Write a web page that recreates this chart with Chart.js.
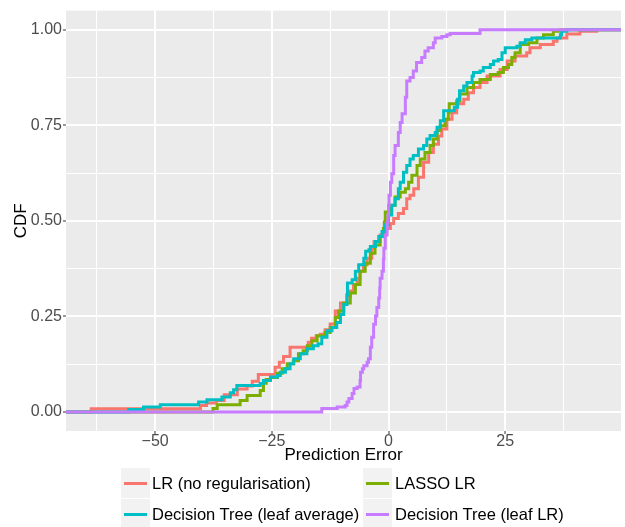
<!DOCTYPE html>
<html><head><meta charset="utf-8">
<script src="https://cdn.jsdelivr.net/npm/chart.js@4"></script>
<style>
html,body{margin:0;padding:0;background:#fff;}
#wrap{position:relative;width:625px;height:527px;overflow:hidden;}
#c{position:absolute;left:0;top:0;}
.key{position:absolute;width:29px;height:30px;background:#F2F2F2;}
.key span{position:absolute;left:3px;right:3px;top:13.5px;height:3px;}
.lab{position:absolute;font-family:"Liberation Sans",Arial,sans-serif;font-size:16.5px;color:#000;white-space:nowrap;line-height:30px;height:30px;}
</style></head>
<body>
<div id="wrap"><canvas id="c" width="625" height="527"></canvas></div>
<script>
// ---- data (ECDF step corners) ----
const seriesNames = ['LR (no regularisation)', 'LASSO LR', 'Decision Tree (leaf average)', 'Decision Tree (leaf LR)'];

const lrX = [-63.7,-40.3,-39.0,-36.9,-35.2,-32.4,-30.3,-29.2,-27.9,-24.3,-23.4,-22.5,-21.1,-17.2,-16.5,-15.5,-14.6,-13.6,-12.5,-11.4,-10.3,-8.9,-8.2,-7.5,-6.7,-6.1,-5.4,-4.6,-3.6,-3.1,-1.8,-0.7,0.4,1.1,2.1,3.2,3.9,4.6,5.4,6.4,7.5,8.6,9.6,10.7,11.4,12.5,13.6,14.6,16.1,17.1,18.2,19.6,21.1,23.9,25.4,27.1,29.6,30.3,32.5,35.3,36.1,38.2,41.0,44.6];
const lrY = [0.008,0.017,0.023,0.030,0.045,0.060,0.068,0.080,0.098,0.117,0.130,0.145,0.169,0.182,0.193,0.199,0.203,0.215,0.230,0.264,0.285,0.303,0.316,0.333,0.350,0.368,0.385,0.402,0.428,0.446,0.463,0.480,0.493,0.506,0.519,0.532,0.558,0.567,0.584,0.614,0.653,0.679,0.700,0.722,0.740,0.766,0.783,0.806,0.818,0.835,0.849,0.862,0.879,0.896,0.918,0.931,0.940,0.953,0.961,0.970,0.978,0.989,0.996,1.000];

const lassoX = [-37.6,-36.7,-31.8,-30.3,-27.5,-26.8,-26.2,-25.3,-23.8,-22.8,-21.7,-20.4,-19.3,-18.3,-17.4,-16.4,-15.3,-13.6,-12.5,-11.4,-10.7,-9.6,-8.2,-7.1,-6.1,-5.0,-3.9,-2.9,-1.8,-1.1,-0.9,-0.7,0.4,1.4,2.5,3.6,4.3,5.0,6.1,6.8,7.8,8.9,9.6,10.4,11.1,12.1,12.8,13.0,14.6,15.3,16.8,18.2,19.6,21.8,23.5,24.6,25.7,26.4,27.1,28.2,30.0,31.8,33.2,35.3,36.8];
const lassoY = [0.009,0.019,0.030,0.043,0.056,0.075,0.085,0.090,0.101,0.113,0.126,0.134,0.152,0.160,0.173,0.186,0.199,0.208,0.221,0.247,0.264,0.285,0.311,0.333,0.368,0.389,0.415,0.437,0.459,0.480,0.497,0.523,0.541,0.562,0.575,0.584,0.601,0.619,0.645,0.662,0.679,0.697,0.714,0.736,0.749,0.766,0.783,0.806,0.814,0.832,0.849,0.862,0.870,0.883,0.888,0.901,0.909,0.927,0.940,0.961,0.966,0.978,0.987,0.996,1.000];

const dtAvgX = [-55.7,-52.5,-48.9,-40.7,-38.9,-35.7,-33.9,-33.2,-32.5,-27.5,-26.8,-25.3,-23.8,-23.2,-22.1,-21.1,-20.3,-18.9,-17.5,-16.1,-15.1,-14.3,-13.2,-12.1,-11.1,-10.3,-9.6,-8.9,-8.8,-7.8,-7.1,-6.4,-5.3,-4.9,-4.2,-3.9,-2.8,-2.1,-1.4,-0.7,0.0,0.7,1.4,2.1,2.5,3.2,3.9,4.6,5.3,6.4,7.5,8.2,8.9,10.0,10.4,11.1,11.8,14.1,14.8,15.2,16.1,16.8,17.9,18.2,19.6,20.3,21.8,22.5,23.5,24.3,25.0,27.5,28.2,29.3,30.7,36.8,37.1,38.2];
const dtAvgY = [0.006,0.013,0.019,0.026,0.032,0.039,0.050,0.058,0.069,0.074,0.082,0.091,0.095,0.104,0.113,0.126,0.139,0.152,0.165,0.173,0.178,0.195,0.212,0.221,0.234,0.255,0.281,0.307,0.337,0.346,0.368,0.385,0.402,0.420,0.424,0.433,0.446,0.459,0.472,0.489,0.515,0.541,0.558,0.584,0.601,0.627,0.645,0.662,0.671,0.688,0.697,0.714,0.723,0.731,0.745,0.762,0.788,0.797,0.818,0.840,0.853,0.862,0.879,0.888,0.892,0.901,0.909,0.918,0.922,0.940,0.953,0.957,0.966,0.974,0.978,0.987,0.996,1.000];

const dtLrX = [-14.3,-11.0,-9.3,-8.9,-8.5,-7.8,-7.4,-6.7,-6.1,-6.0,-5.6,-5.3,-4.6,-4.3,-3.9,-3.6,-3.2,-2.8,-2.5,-2.1,-1.9,-1.8,-1.4,-1.1,-1.0,-0.7,-0.3,-0.1,0.0,0.1,0.4,0.7,1.1,1.4,2.1,2.5,2.9,3.6,3.9,4.6,5.3,6.0,7.1,7.8,8.5,9.6,10.0,11.4,12.5,13.2,19.6];
const dtLrY = [0.009,0.013,0.017,0.026,0.035,0.048,0.061,0.065,0.082,0.104,0.113,0.121,0.130,0.139,0.169,0.195,0.229,0.251,0.273,0.298,0.324,0.350,0.368,0.400,0.428,0.463,0.497,0.515,0.541,0.567,0.601,0.623,0.671,0.697,0.731,0.757,0.780,0.823,0.866,0.875,0.892,0.914,0.927,0.944,0.953,0.966,0.978,0.982,0.987,0.990,1.000];

const xMajor = [-50, -25, 0, 25];
const xMinor = [-62.5, -37.5, -12.5, 12.5, 37.5];
const yMajor = [0, 0.25, 0.5, 0.75, 1];
const yMinor = [0.125, 0.375, 0.625, 0.875];
const xMin = -69.1, xMax = 49.8, yMin = -0.05, yMax = 1.05;

// ---- styles ----
const colors = ['#F8766D', '#7CAE00', '#00BFC4', '#C77CFF'];
const FONT = '"Liberation Sans", Arial, sans-serif';
Chart.defaults.font.family = FONT;

const seriesX = [lrX, lassoX, dtAvgX, dtLrX];
const seriesY = [lrY, lassoY, dtAvgY, dtLrY];

function ecdfPoints(xs, ys) {
  const pts = [{x: xMin, y: 0}];
  xs.forEach((x, i) => pts.push({x: x, y: ys[i]}));
  pts.push({x: xMax, y: 1});
  return pts;
}

const datasets = seriesNames.map((name, i) => ({
  label: name,
  data: ecdfPoints(seriesX[i], seriesY[i]),
  borderColor: colors[i],
  backgroundColor: colors[i],
  borderWidth: 3,
  pointRadius: 0,
  stepped: 'before',
  fill: false,
  tension: 0,
  order: seriesNames.length - 1 - i
}));

const panelBg = {
  id: 'panelBg',
  beforeDraw(chart) {
    const {ctx, chartArea: a} = chart;
    ctx.save();
    ctx.fillStyle = '#EBEBEB';
    ctx.fillRect(a.left, a.top, a.right - a.left, a.bottom - a.top);
    ctx.restore();
  }
};

const fmtX = v => v < 0 ? '\u2212' + Math.abs(v) : String(v);

new Chart(document.getElementById('c'), {
  type: 'line',
  data: {datasets},
  plugins: [panelBg],
  options: {
    responsive: false,
    animation: false,
    devicePixelRatio: 1,
    layout: {padding: {top: 7, right: 4, left: 0, bottom: 60}},
    plugins: {legend: {display: false}, tooltip: {enabled: false}},
    scales: {
      x: {
        type: 'linear', min: xMin, max: xMax,
        afterBuildTicks: s => { s.ticks = [...xMajor, ...xMinor].sort((a, b) => a - b).map(v => ({value: v})); },
        afterFit: s => { s.height = 36; },
        ticks: {
          callback: v => xMajor.includes(v) ? fmtX(v) : '',
          color: '#4D4D4D', font: {size: 16, lineHeight: 1}, padding: 0,
          maxRotation: 0, autoSkip: false
        },
        grid: {
          color: '#FFFFFF',
          lineWidth: c => xMajor.includes(c.tick.value) ? 2 : 1,
          tickLength: 3,
          tickWidth: 1,
          tickColor: c => xMajor.includes(c.tick.value) ? '#333333' : 'rgba(0,0,0,0)'
        },
        border: {display: false},
        title: {display: true, text: 'Prediction Error', color: '#000', font: {size: 17}, padding: {top: 0, bottom: 1.8}}
      },
      y: {
        type: 'linear', min: yMin, max: yMax,
        afterBuildTicks: s => { s.ticks = [...yMajor, ...yMinor].sort((a, b) => a - b).map(v => ({value: v})); },
        afterFit: s => { s.width = 66; },
        ticks: {
          callback: v => yMajor.includes(v) ? v.toFixed(2) : '',
          color: '#4D4D4D', font: {size: 16}, padding: 1, autoSkip: false
        },
        grid: {
          color: '#FFFFFF',
          lineWidth: c => yMajor.includes(c.tick.value) ? 2 : 1,
          tickLength: 3,
          tickWidth: 1,
          tickColor: c => yMajor.includes(c.tick.value) ? '#333333' : 'rgba(0,0,0,0)'
        },
        border: {display: false},
        title: {display: true, text: 'CDF', color: '#000', font: {size: 17}, padding: {top: 10.8, bottom: 0}}
      }
    }
  }
});

// ---- legend (2 x 2 grid, ggplot style) ----
const wrap = document.getElementById('wrap');
const keyLeft = [121, 363], labLeft = [152, 395], rowTop = [468, 499];
seriesNames.forEach((name, i) => {
  const col = i % 2, row = Math.floor(i / 2);
  const lab = document.createElement('div');
  lab.className = 'lab';
  lab.style.left = labLeft[col] + 'px';
  lab.style.top = rowTop[row] + 'px';
  lab.textContent = name;
  wrap.appendChild(lab);
});
seriesNames.forEach((name, i) => {
  const col = i % 2, row = Math.floor(i / 2);
  const key = document.createElement('div');
  key.className = 'key';
  key.style.left = keyLeft[col] + 'px';
  key.style.top = rowTop[row] + 'px';
  const ln = document.createElement('span');
  ln.style.background = colors[i];
  key.appendChild(ln);
  wrap.appendChild(key);
});
</script>
</body></html>
